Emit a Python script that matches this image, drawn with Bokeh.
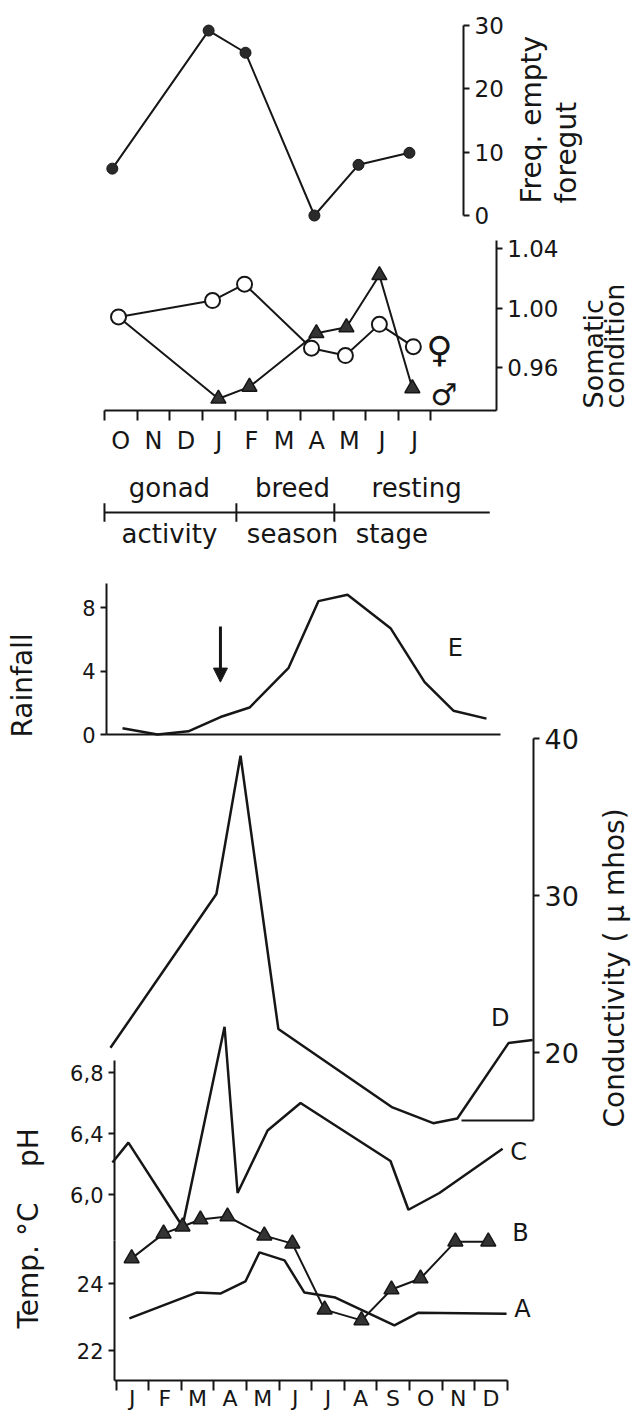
import math
from bokeh.plotting import figure
from bokeh.models import (Range1d, LinearAxis, FixedTicker, NumeralTickFormatter,
                          CustomJSTickFormatter, Arrow, NormalHead)
from bokeh.core.properties import value
from bokeh.embed import file_html
from bokeh.resources import INLINE

# ---------------- data ----------------
top_months = ["O", "N", "D", "J", "F", "M", "A", "M", "J", "J"]
bottom_months = ["J", "F", "M", "A", "M", "J", "J", "A", "S", "O", "N", "D"]

# frequency of empty foregut (month index from October = 0)
foregut_month = [-0.26, 2.69, 3.82, 5.93, 7.28, 8.84]
foregut_freq = [7.4, 29.2, 25.7, 0.0, 8.0, 9.9]

# somatic condition
female_month = [-0.07, 2.81, 3.79, 5.84, 6.88, 7.92, 8.96]
female_condition = [0.994, 1.005, 1.016, 0.973, 0.968, 0.989, 0.974]
male_month = [-0.07, 2.99, 3.94, 5.99, 6.91, 7.92, 8.93]
male_condition = [0.994, 0.939, 0.947, 0.983, 0.987, 1.022, 0.946]

# reproductive stages
stage_top = ["gonad", "breed", "resting"]
stage_bottom = ["activity", "season", "stage"]
stage_edges = [-0.5, 3.54, 6.54]
stage_end = 11.3
stage_top_x = [1.49, 5.26, 9.06]
stage_bottom_x = [1.49, 5.26, 8.3]

# E: rainfall (month index from January = 0)
rain_month = [0, 1.06, 1.99, 2.96, 3.84, 5.02, 5.92, 6.80, 8.10, 9.13, 10.0, 11.0]
rainfall = [0.4, 0.0, 0.2, 1.1, 1.7, 4.2, 8.4, 8.8, 6.7, 3.3, 1.5, 1.0]
arrow_month, arrow_top, arrow_tip = 2.96, 6.8, 3.3

# D: conductivity
cond_month = [-0.67, 2.58, 3.32, 4.48, 7.98, 9.23, 9.97, 11.54, 12.28]
conductivity = [20.3, 30.1, 38.9, 21.5, 16.5, 15.5, 15.8, 20.6, 20.8]

# C: pH
ph_month = [-0.61, -0.12, 1.54, 2.83, 3.23, 4.15, 5.16, 7.92, 8.47, 9.42, 11.36]
ph = [6.21, 6.34, 5.79, 7.10, 6.01, 6.42, 6.60, 6.22, 5.90, 6.01, 6.30]

# B: temperature (triangles)
temp_b_month = [-0.02, 0.96, 1.54, 2.09, 2.92, 4.05, 4.91, 5.90, 7.03, 7.95, 8.84, 9.91, 10.92]
temp_b = [24.75, 25.49, 25.70, 25.91, 26.0, 25.43, 25.19, 23.22, 22.90, 23.82, 24.15, 25.25, 25.25]

# A: temperature (line)
temp_a_month = [-0.09, 1.97, 2.70, 3.47, 3.90, 4.67, 5.28, 6.23, 8.04, 8.78, 11.48]
temp_a = [22.96, 23.73, 23.70, 24.06, 24.93, 24.69, 23.73, 23.58, 22.75, 23.13, 23.10]

# ---------------- layout / scales ----------------
FONT = "DejaVu Sans"
FV = value(FONT)
INK = "#161616"

X0, Y0, W, H = 0, 0, 636, 1416

# calibration of every scale: (value1, page pixel1, value2, page pixel2)
CAL = {
    "x_top": (0, 120.3, 1, 152.95),
    "x_rain": (0, 122, 11, 486),
    "x_bot": (0, 131.8, 1, 164.4),
    "x_px": (0, 0, 1, 1),
    "y_freq": (0, 215, 30, 25),
    "y_soma": (0.96, 367, 1.04, 248),
    "y_stage": (0, 512, 1, 489),
    "y_rain": (0, 734, 8, 607),
    "y_cond": (20, 1052, 40, 738),
    "y_ph": (6.0, 1194, 6.8, 1072),
    "y_temp": (22, 1350, 24, 1283),
    "y_px": (0, 0, 1, 1),
}


def at(name, pix):
    v1, p1, v2, p2 = CAL[name]
    return v1 + (pix - p1) * (v2 - v1) / (p2 - p1)


def xr(name):
    return Range1d(at(name, X0), at(name, X0 + W))


def yr(name):
    return Range1d(at(name, Y0 + H), at(name, Y0))


p = figure(width=W, height=H, x_range=xr("x_bot"), y_range=yr("y_temp"),
           x_axis_type=None, y_axis_type=None, toolbar_location=None,
           output_backend="svg", min_border=0, outline_line_color=None,
           background_fill_color="white", border_fill_color="white")
p.title.visible = False
p.extra_x_ranges = {"top": xr("x_top"), "rain": xr("x_rain"), "px": xr("x_px")}
p.extra_y_ranges = {"freq": yr("y_freq"), "soma": yr("y_soma"), "stage": yr("y_stage"),
                    "rain": yr("y_rain"), "cond": yr("y_cond"), "ph": yr("y_ph"),
                    "py": yr("y_px")}


def add_axis(side, xname, yname, loc, ticks, bounds, size="22px", minor=None,
             tick_out=6, minor_out=0, standoff=5, formatter=None, overrides=None):
    ax = LinearAxis(x_range_name=xname, y_range_name=yname, fixed_location=loc,
                    bounds=bounds, ticker=FixedTicker(ticks=ticks, minor_ticks=minor or []),
                    axis_line_color=INK, axis_line_width=2,
                    major_tick_line_color=INK, major_tick_line_width=2,
                    major_tick_in=0, major_tick_out=tick_out,
                    minor_tick_line_color=INK, minor_tick_line_width=2,
                    minor_tick_in=0, minor_tick_out=minor_out,
                    major_label_text_font=FONT, major_label_text_font_size=size,
                    major_label_text_color=INK, major_label_standoff=standoff)
    if formatter is not None:
        ax.formatter = formatter
    if overrides is not None:
        ax.major_label_overrides = overrides
    p.add_layout(ax, side)
    return ax


# top panel axis
add_axis("right", "top", "freq", at("x_top", 463), [0, 10, 20, 30], (0, 30), size="23px")
# somatic condition axes
add_axis("right", "top", "soma", 11.5, [0.96, 1.0, 1.04],
         (at("y_soma", 410), at("y_soma", 240)), size="23px",
         formatter=NumeralTickFormatter(format="0.00"))
add_axis("below", "top", "soma", at("y_soma", 410), list(range(len(top_months))),
         (-0.5, 11.5), size="24px", minor=[i - 0.5 for i in range(len(top_months) + 1)],
         tick_out=0, minor_out=10, standoff=6,
         overrides={i: m for i, m in enumerate(top_months)})
# rainfall axes
add_axis("left", "rain", "rain", at("x_rain", 106), [0, 4, 8], (0, at("y_rain", 583)), size="21px")
add_axis("below", "rain", "rain", 0, [], (at("x_rain", 106), at("x_rain", 500)))
# conductivity axis and its foot
add_axis("right", "default", "cond", at("x_bot", 533), [20, 30, 40],
         (at("y_cond", 1120), 40), size="27px")
add_axis("below", "default", "cond", at("y_cond", 1120), [],
         (at("x_bot", 461), at("x_bot", 533)))
# pH and temperature axes (sharing one vertical line)
add_axis("left", "default", "ph", at("x_bot", 114), [6.0, 6.4, 6.8],
         (at("y_ph", 1240), at("y_ph", 1060)), size="21px",
         formatter=CustomJSTickFormatter(code="return tick.toFixed(1).replace('.', ',')"))
add_axis("left", "default", "default", at("x_bot", 114), [22, 24],
         (at("y_temp", 1380), at("y_temp", 1240)), size="21px")
add_axis("below", "default", "default", at("y_temp", 1380), list(range(12)),
         (at("x_bot", 114), 11.5), size="22px", minor=[i - 0.5 for i in range(13)],
         tick_out=0, minor_out=10, standoff=-5,
         overrides={i: m for i, m in enumerate(bottom_months)})

# ---------------- marks ----------------
# frequency of empty foregut
p.line(foregut_month, foregut_freq, x_range_name="top", y_range_name="freq",
       line_width=2, color=INK)
p.scatter(foregut_month, foregut_freq, x_range_name="top", y_range_name="freq",
          marker="circle", size=11, fill_color="#2a2a2a", line_color=INK)

# somatic condition
p.line(male_month, male_condition, x_range_name="top", y_range_name="soma",
       line_width=2, color=INK)
p.line(female_month, female_condition, x_range_name="top", y_range_name="soma",
       line_width=2, color=INK)
p.scatter(male_month[1:], male_condition[1:], x_range_name="top", y_range_name="soma",
          marker="triangle", size=15, fill_color="#333333", line_color=INK, line_width=1.5)
p.scatter(female_month, female_condition, x_range_name="top", y_range_name="soma",
          marker="circle", size=15, fill_color="white", line_color=INK, line_width=2)
p.text(x=[9.76], y=[0.972], text=["\u2640"], x_range_name="top", y_range_name="soma",
       text_font=FV, text_font_size="36px", text_align="center", text_baseline="middle",
       text_color=INK)
p.text(x=[9.9], y=[0.942], text=["\u2642"], x_range_name="top", y_range_name="soma",
       text_font=FV, text_font_size="30px", text_align="center", text_baseline="middle",
       text_color=INK)

# stage bar
p.segment(x0=[stage_edges[0]], y0=[0], x1=[stage_end], y1=[0], x_range_name="top",
          y_range_name="stage", line_width=2, color=INK)
p.segment(x0=stage_edges, y0=[-0.4] * 3, x1=stage_edges, y1=[0.4] * 3,
          x_range_name="top", y_range_name="stage", line_width=2, color=INK)
p.text(x=stage_top_x, y=[1.05] * 3, text=stage_top, x_range_name="top", y_range_name="stage",
       text_font=FV, text_font_size="26px", text_align="center", text_baseline="middle",
       text_color=INK)
p.text(x=stage_bottom_x, y=[-0.95] * 3, text=stage_bottom, x_range_name="top",
       y_range_name="stage", text_font=FV, text_font_size="26px", text_align="center",
       text_baseline="middle", text_color=INK)

# E rainfall
p.line(rain_month, rainfall, x_range_name="rain", y_range_name="rain", line_width=2.5, color=INK)
p.add_layout(Arrow(x_start=arrow_month, y_start=arrow_top, x_end=arrow_month, y_end=arrow_tip,
                   x_range_name="rain", y_range_name="rain", line_width=3, line_color=INK,
                   end=NormalHead(size=14, fill_color=INK, line_color=INK)))
p.text(x=[10.06], y=[5.48], text=["E"], x_range_name="rain", y_range_name="rain",
       text_font=FV, text_font_size="24px", text_align="center", text_baseline="middle",
       text_color=INK)

# D conductivity
p.line(cond_month, conductivity, y_range_name="cond", line_width=2.5, color=INK)
p.text(x=[11.29], y=[22.17], text=["D"], y_range_name="cond", text_font=FV,
       text_font_size="24px", text_align="center", text_baseline="middle", text_color=INK)

# C pH
p.line(ph_month, ph, y_range_name="ph", line_width=2.5, color=INK)
p.text(x=[11.85], y=[6.28], text=["C"], y_range_name="ph", text_font=FV,
       text_font_size="24px", text_align="center", text_baseline="middle", text_color=INK)

# B and A temperature
p.line(temp_b_month, temp_b, line_width=2, color=INK)
p.scatter(temp_b_month, temp_b, marker="triangle", size=15, fill_color="#333333",
          line_color=INK, line_width=1.5)
p.line(temp_a_month, temp_a, line_width=2.5, color=INK)
p.text(x=[11.91, 11.97], y=[25.52, 23.25], text=["B", "A"], text_font=FV,
       text_font_size="24px", text_align="center", text_baseline="middle", text_color=INK)

# axis titles (rotated, reading upwards)
NB = "\u00a0"
titles = [
    ("Freq. empty", 531, 203, "28px"),
    ("foregut", 566, 203, "28px"),
    ("Somatic", 593, 408, "27px"),
    ("condition", 614, 408, "27px"),
    ("Rainfall", 22, 737, "28px"),
    ("Conductivity" + NB + "(" + NB + "\u03bc" + NB + "mhos)", 614, 1127, "28px"),
    ("Temp." + NB + "\u00b0C" + NB * 4 + "pH", 28, 1328, "28px"),
]
for txt, tx, ty, fs in titles:
    p.text(x=[tx], y=[ty], text=[txt], x_range_name="px", y_range_name="py",
           angle=math.pi / 2, text_font=FV, text_font_size=fs, text_align="left",
           text_baseline="middle", text_color=INK)

open("out.html", "w").write(file_html(p, INLINE))
